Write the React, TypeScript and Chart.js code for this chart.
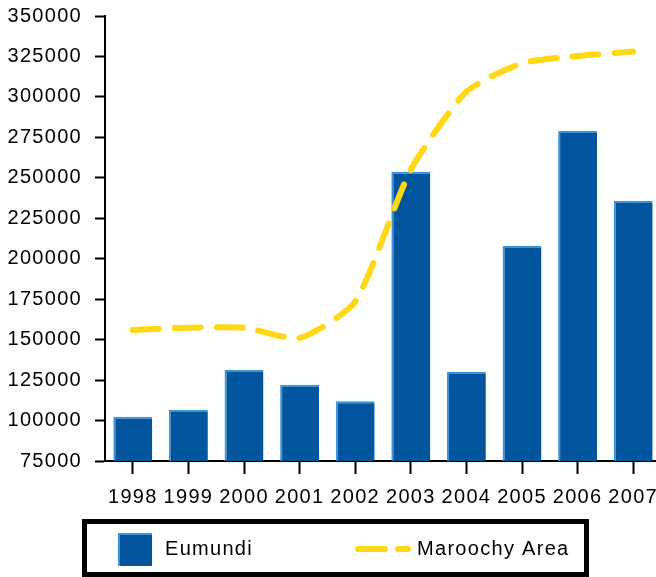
import React, { useEffect, useRef } from 'react';
import { Chart, registerables } from 'chart.js';

Chart.register(...registerables);

const years = ['1998', '1999', '2000', '2001', '2002', '2003', '2004', '2005', '2006', '2007'];
const eumundiValues = [102400, 106500, 131200, 122000, 112000, 253800, 130000, 207900, 278900, 235700];
const maroochyValues = [156000, 157400, 157400, 151000, 173500, 255000, 303200, 320800, 325300, 328000];
const seriesNames = ['Eumundi', 'Maroochy Area'];
const yMin = 75000;
const yMax = 350000;
const yStep = 25000;

const FONT = '"Liberation Sans", Arial, sans-serif';
const BAR_COLOR = '#01559d';
const BAR_EDGE = '#3b93de';
const LINE_COLOR = '#ffd714';

const spacingPlugin = {
  id: 'spacing',
  beforeLayout(chart: any) {
    chart.ctx.letterSpacing = '1.3px';
  },
  beforeDraw(chart: any) {
    chart.ctx.letterSpacing = '1.3px';
  },
};

const boxedLegend = {
  id: 'boxedLegend',
  afterDraw(chart: any) {
    const ctx = chart.ctx;
    const bar = chart.data.datasets[0];
    const line = chart.data.datasets[1];
    ctx.save();
    ctx.letterSpacing = '1.3px';
    ctx.lineWidth = 5;
    ctx.strokeStyle = '#000';
    ctx.strokeRect(84.5, 521.5, 502, 53);
    ctx.fillStyle = bar.backgroundColor;
    ctx.fillRect(118, 533, 34, 33);
    ctx.fillStyle = BAR_EDGE;
    ctx.fillRect(118, 533, 34, 2);
    ctx.fillRect(118, 533, 2, 33);
    ctx.font = '20px ' + FONT;
    ctx.fillStyle = '#000';
    ctx.textBaseline = 'alphabetic';
    ctx.textAlign = 'left';
    ctx.fillText(bar.label, 165, 555);
    ctx.setLineDash([27, 13]);
    ctx.lineCap = 'round';
    ctx.lineWidth = 6;
    ctx.strokeStyle = line.borderColor;
    ctx.beginPath();
    ctx.moveTo(358, 549);
    ctx.lineTo(408, 549);
    ctx.stroke();
    ctx.setLineDash([]);
    ctx.fillText(line.label, 417, 555);
    ctx.restore();
  },
};

export default function App() {
  const ref = useRef<HTMLCanvasElement>(null);

  useEffect(() => {
    document.body.style.margin = '0';
    const canvas = ref.current!;
    const chart = new Chart(canvas, {
      type: 'bar',
      data: {
        labels: years,
        datasets: [
          {
            type: 'bar',
            label: seriesNames[0],
            data: eumundiValues,
            backgroundColor: BAR_COLOR,
            borderColor: BAR_EDGE,
            borderWidth: { top: 2, left: 2, right: 0, bottom: 0 },
            borderSkipped: false,
            categoryPercentage: 1,
            barPercentage: 0.7,
            order: 1,
          } as any,
          {
            type: 'line',
            label: seriesNames[1],
            data: maroochyValues,
            borderColor: LINE_COLOR,
            backgroundColor: LINE_COLOR,
            borderWidth: 6,
            borderDash: [26, 16],
            borderCapStyle: 'round',
            tension: 0.2,
            pointRadius: 0,
            fill: false,
            order: 0,
          } as any,
        ],
      },
      options: {
        animation: false,
        responsive: false,
        devicePixelRatio: 1,
        layout: { padding: { top: 16, right: 0, left: 0, bottom: 60 } },
        plugins: {
          legend: { display: false },
          tooltip: { enabled: false },
          title: { display: false },
        },
        scales: {
          x: {
            offset: true,
            grid: {
              display: true,
              offset: false,
              drawOnChartArea: false,
              drawTicks: true,
              tickLength: 13,
              tickWidth: 2,
              tickColor: '#000',
            },
            border: { display: true, color: '#000', width: 2 },
            ticks: {
              color: '#000',
              font: { family: FONT, size: 20 },
              padding: 11,
              maxRotation: 0,
              autoSkip: false,
            },
            afterFit: (s: any) => {
              s.height = 56;
              s.paddingLeft = 0;
              s.paddingRight = 0;
            },
          },
          y: {
            min: yMin,
            max: yMax,
            grid: {
              display: true,
              drawOnChartArea: false,
              drawTicks: true,
              tickLength: 10,
              tickWidth: 2,
              tickColor: '#000',
            },
            border: { display: true, color: '#000', width: 2 },
            ticks: {
              stepSize: yStep,
              color: '#000',
              font: { family: FONT, size: 20 },
              padding: 13,
              callback: (v: any) => String(v),
            },
            afterFit: (s: any) => {
              s.width = 105;
              s.paddingTop = 0;
              s.paddingBottom = 0;
            },
          },
        },
      },
      plugins: [spacingPlugin, boxedLegend],
    });
    return () => chart.destroy();
  }, []);

  return (
    <div style={{ width: 656, height: 577, overflow: 'hidden', background: '#fff' }}>
      <canvas ref={ref} width={661} height={577} />
    </div>
  );
}
